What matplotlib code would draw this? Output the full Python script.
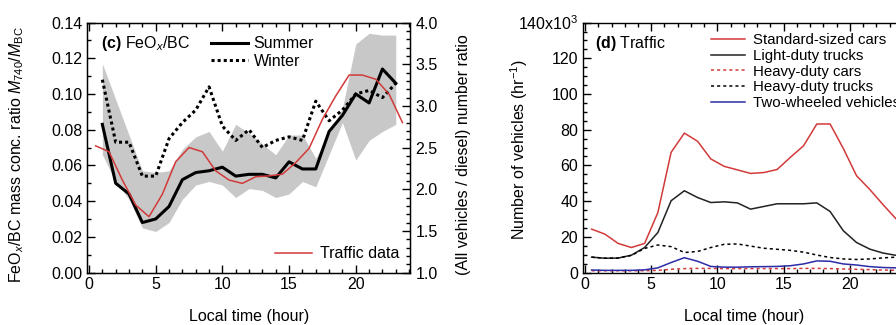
import matplotlib
matplotlib.use("Agg")
import matplotlib.pyplot as plt
import numpy as np
from matplotlib.ticker import MultipleLocator

plt.rcParams['font.family'] = ['Liberation Sans', 'DejaVu Sans']
plt.rcParams['mathtext.fontset'] = 'custom'
plt.rcParams['mathtext.rm'] = 'Liberation Sans'
plt.rcParams['mathtext.it'] = 'Liberation Sans:italic'
plt.rcParams['mathtext.bf'] = 'Liberation Sans:bold'
plt.rcParams['font.size'] = 11.5

# panel (c): FeOx/BC ratio, hourly
hours_c = np.arange(1, 24)
summer = [0.083, 0.050, 0.044, 0.028, 0.030, 0.037, 0.052, 0.056, 0.057, 0.059, 0.054, 0.055,
          0.055, 0.053, 0.062, 0.058, 0.058, 0.079, 0.088, 0.100, 0.095, 0.114, 0.106]
winter = [0.108, 0.073, 0.073, 0.054, 0.054, 0.075, 0.084, 0.091, 0.104, 0.082, 0.074, 0.080,
          0.070, 0.074, 0.076, 0.074, 0.096, 0.085, 0.091, 0.100, 0.102, 0.098, 0.106]
band_hi = [0.117, 0.097, 0.077, 0.057, 0.056, 0.057, 0.069, 0.076, 0.079, 0.068, 0.083, 0.078,
           0.072, 0.066, 0.077, 0.077, 0.064, 0.078, 0.092, 0.128, 0.134, 0.133, 0.133]
band_lo = [0.066, 0.051, 0.041, 0.025, 0.023, 0.028, 0.041, 0.049, 0.051, 0.049, 0.042, 0.047,
           0.046, 0.042, 0.044, 0.051, 0.048, 0.066, 0.084, 0.063, 0.074, 0.079, 0.083]

# traffic ratio (all vehicles / diesel), half-hour centred
hours_t = np.arange(0.5, 24, 1.0)
traffic_ratio = [2.52, 2.45, 2.11, 1.81, 1.67, 1.94, 2.33, 2.50, 2.45, 2.22, 2.11, 2.07,
                 2.15, 2.16, 2.18, 2.32, 2.49, 2.84, 3.12, 3.37, 3.37, 3.32, 3.14, 2.80]

# panel (d): number of vehicles (x10^3 per hour)
std_cars = [24.3, 21.5, 16.3, 14.0, 16.3, 33.6, 67.3, 78.1, 73.5, 63.6, 59.5, 57.5,
            55.5, 56.0, 57.7, 64.5, 71.0, 83.2, 83.2, 69.5, 54.2, 46.5, 38.0, 29.9]
light_trucks = [8.6, 8.0, 8.1, 9.7, 14.0, 22.4, 40.2, 45.8, 42.0, 39.2, 39.6, 39.0,
                35.5, 37.0, 38.5, 38.5, 38.5, 39.0, 34.2, 23.4, 16.8, 13.1, 10.9, 9.6]
heavy_cars = [1.0, 1.0, 1.0, 1.0, 1.0, 1.2, 1.8, 2.2, 2.3, 2.3, 2.2, 2.2,
              2.2, 2.2, 2.2, 2.2, 2.3, 2.3, 2.2, 2.0, 1.8, 1.6, 1.4, 1.2]
heavy_trucks = [8.6, 8.0, 8.1, 9.6, 13.5, 15.4, 14.5, 11.2, 11.8, 14.0, 15.8, 16.0,
                14.8, 13.6, 13.0, 12.4, 11.4, 9.8, 8.4, 7.6, 7.3, 7.6, 8.2, 8.6]
two_wheel = [1.4, 1.2, 1.2, 1.2, 1.5, 2.6, 5.6, 8.3, 6.3, 3.4, 3.0, 3.0,
             3.2, 3.3, 3.4, 3.8, 4.8, 6.5, 6.3, 4.8, 4.2, 3.3, 2.8, 2.6]

red = '#d23a3a'
fig = plt.figure(figsize=(8.96, 3.25), dpi=100)


def style_ticks(ax, right=False):
    ax.tick_params(which='both', direction='in', top=True, right=right, width=1)
    ax.tick_params(which='major', length=6)
    ax.tick_params(which='minor', length=3)
    for s in ax.spines.values():
        s.set_linewidth(1.0)


# ---- panel (c)
ax = fig.add_axes([0.0971, 0.1615, 0.361, 0.769])
ax.fill_between(hours_c, band_lo, band_hi, color='#c8c8c8', lw=0)
ax.plot(hours_c, summer, color='black', lw=2.2, label='Summer')
ax.plot(hours_c, winter, color='black', lw=2.2, ls=(0, (1, 1)), label='Winter')
ax.set_xlim(-0.15, 24.1)
ax.set_ylim(0, 0.14)
ax.xaxis.set_major_locator(MultipleLocator(5))
ax.xaxis.set_minor_locator(MultipleLocator(1))
ax.yaxis.set_major_locator(MultipleLocator(0.02))
ax.yaxis.set_minor_locator(MultipleLocator(0.01))
ax.yaxis.set_major_formatter(lambda v, p: f'{v:.2f}')
style_ticks(ax)
ax.set_xlabel('Local time (hour)', labelpad=12)
ax.set_ylabel(r'FeO$_x$/BC mass conc. ratio $M_{740}$/$M_{\mathrm{BC}}$')
ax.yaxis.set_label_coords(-0.19, 0.47)
ax.text(0.042, 0.915, r'$\mathbf{(c)}$ FeO$_x$/BC', transform=ax.transAxes, va='center')
ax.legend(loc='upper left', bbox_to_anchor=(0.35, 0.99), frameon=False, handlelength=2.3,
          handletextpad=0.35, labelspacing=0.15, borderpad=0.2)

ax2 = ax.twinx()
ax2.plot(hours_t, traffic_ratio, color=red, lw=1.1, label='Traffic data')
ax2.set_ylim(1.0, 4.0)
ax2.yaxis.set_major_locator(MultipleLocator(0.5))
ax2.yaxis.set_minor_locator(MultipleLocator(0.1))
ax2.yaxis.set_major_formatter(lambda v, p: f'{v:.1f}')
ax2.tick_params(which='both', direction='in', width=1)
ax2.tick_params(which='major', length=6)
ax2.tick_params(which='minor', length=3)
ax2.set_ylabel('(All vehicles / diesel) number ratio')
ax2.yaxis.set_label_coords(1.14, 0.47)
ax2.legend(loc='lower right', frameon=False, handlelength=2.3, handletextpad=0.5,
           borderpad=0.3, borderaxespad=0.4)

# ---- panel (d)
bx = fig.add_axes([0.6507, 0.1615, 0.3585, 0.769])
bx.plot(hours_t, std_cars, color=red, lw=1.1, label='Standard-sized cars')
bx.plot(hours_t, light_trucks, color='#222222', lw=1.1, label='Light-duty trucks')
bx.plot(hours_t, heavy_cars, color=red, lw=1.1, ls=(0, (2, 2)), label='Heavy-duty cars')
bx.plot(hours_t, heavy_trucks, color='black', lw=1.1, ls=(0, (2, 2)), label='Heavy-duty trucks')
bx.plot(hours_t, two_wheel, color='#2c2ca8', lw=1.1, label='Two-wheeled vehicles')
bx.set_xlim(-0.15, 24.1)
bx.set_ylim(0, 140)
bx.xaxis.set_major_locator(MultipleLocator(5))
bx.xaxis.set_minor_locator(MultipleLocator(1))
bx.yaxis.set_major_locator(MultipleLocator(20))
bx.yaxis.set_minor_locator(MultipleLocator(5))
bx.yaxis.set_major_formatter(lambda v, p: r'140x10$^3$' if abs(v - 140) < 1e-6 else f'{v:.0f}')
style_ticks(bx, right=True)
bx.set_xlabel('Local time (hour)', labelpad=12)
bx.set_ylabel(r'Number of vehicles (hr$^{-1}$)')
bx.yaxis.set_label_coords(-0.165, 0.49)
bx.text(0.038, 0.915, r'$\mathbf{(d)}$ Traffic', transform=bx.transAxes, va='center')
bx.legend(loc='upper left', bbox_to_anchor=(0.365, 1.0), frameon=False, handlelength=2.3,
          handletextpad=0.5, labelspacing=0.12, borderpad=0.2, fontsize=10.8)

fig.savefig('out.png', dpi=100)
